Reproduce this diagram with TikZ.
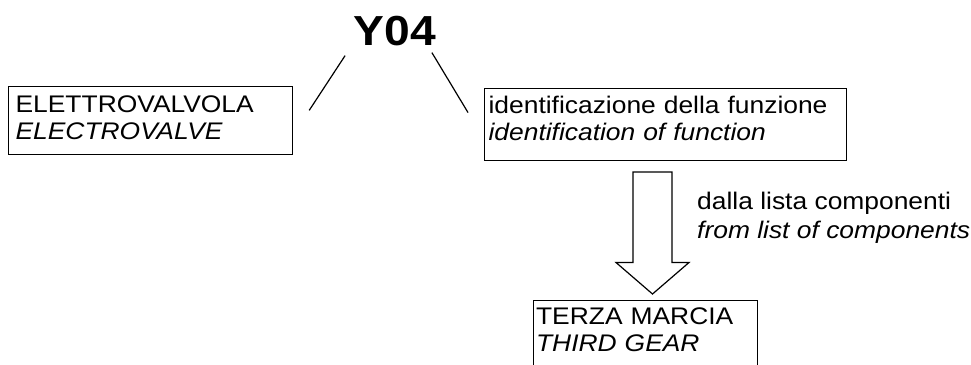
\documentclass[tikz,border=0pt]{standalone}
\usepackage{fontspec}
\setmainfont{Liberation Sans}[FakeStretch=1.1]
% invisible depth below the last line of a box
\newcommand{\boxfoot}[1]{\rule[-#1]{0pt}{#1}}
\begin{document}
\begin{tikzpicture}[x=1pt,y=-1pt,
  txt/.style={font=\fontsize{24}{27}\selectfont, align=left},
  labelbox/.style={txt, draw, line width=1.2pt, anchor=north west},
  link/.style={line width=1.2pt}]
\useasboundingbox (0,0) rectangle (971,364);

% code of the component
\node[font=\bfseries\fontsize{42}{46}\selectfont, inner sep=0pt, anchor=base] (code) at (395,45) {Y04};

% the two meanings of the code
\node[labelbox, inner xsep=7pt, inner ysep=9pt, text width=270pt] (valve) at (8,86)
  {ELETTROVALVOLA\\\textit{ELECTROVALVE}\boxfoot{5.8pt}};
\node[labelbox, inner xsep=4pt, inner ysep=8pt, text width=354pt] (func) at (484,88)
  {identificazione della funzione\\\textit{identification of function}\boxfoot{11.5pt}};

\draw[link] ([shift={(-8.6,10)}]code.south west) -- ([shift={(16,-10)}]valve.east);
\draw[link] ([shift={(-4.4,7)}]code.south east) -- ([shift={(-16,-12)}]func.west);

% function found in the component list
\node[labelbox, inner xsep=2.5pt, inner ysep=7.5pt, text width=219pt] (gear) at (533,300)
  {TERZA MARCIA\\\textit{THIRD GEAR}\boxfoot{30pt}};

% block arrow from the function to the gear
\coordinate (atop) at (652.5,172);
\coordinate (atip) at (652.5,294);
\draw[line width=1.2pt, line join=miter]
  ([xshift=-19.5pt]atop) -- ([xshift=19.5pt]atop) -- ++(0,90.5) -- ++(17,0)
  -- (atip) -- ++(-36.5,-31.5) -- ++(17,0) -- cycle;

\node[anchor=north west, inner sep=0pt, align=left, font=\fontsize{24}{28.5}\selectfont] (src) at (697,192)
  {dalla lista componenti\\\textit{from list of components}};
\end{tikzpicture}
\end{document}
